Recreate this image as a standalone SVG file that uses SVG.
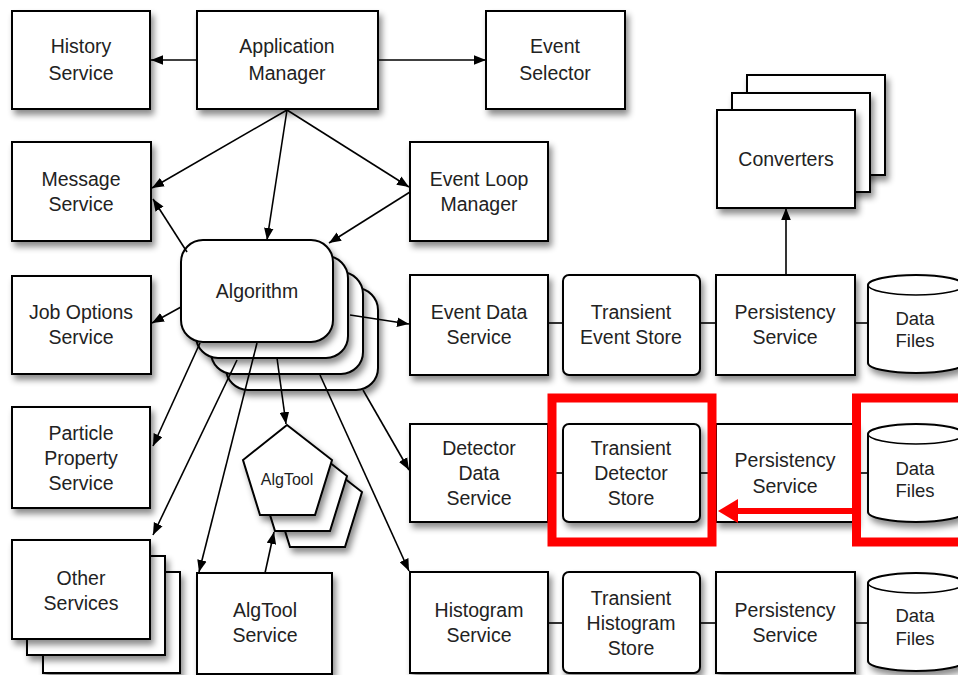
<svg xmlns="http://www.w3.org/2000/svg" width="958" height="675" viewBox="0 0 958 675">
<defs>
<filter id="sh" x="-20%" y="-20%" width="150%" height="150%">
<feDropShadow dx="3" dy="5" stdDeviation="3" flood-color="#000" flood-opacity="0.45"/>
</filter>
<marker id="ah" viewBox="0 0 10 8" refX="10" refY="4" markerWidth="12" markerHeight="10" markerUnits="userSpaceOnUse" orient="auto">
<path d="M0,0 L10,4 L0,8 Z" fill="#000"/>
</marker>
</defs>
<style>
.b{fill:#fff;stroke:#000;stroke-width:2;filter:url(#sh)}
.t{font-family:"Liberation Sans",Arial,sans-serif;font-size:19.5px;fill:#222;text-anchor:middle}
.s{font-family:"Liberation Sans",Arial,sans-serif;font-size:16px;fill:#222;text-anchor:middle}
.c{fill:none;stroke:#000;stroke-width:1.6}
.a{fill:none;stroke:#000;stroke-width:1.6;marker-end:url(#ah)}
.red{fill:none;stroke:#f00;stroke-width:9}
</style>
<rect width="958" height="675" fill="#fff"/>

<g id="history-service"><rect class="b" x="12" y="11" width="138" height="98"/><text class="t" x="81" y="53">History</text><text class="t" x="81" y="80">Service</text></g>
<g id="application-manager"><rect class="b" x="197" y="11" width="181" height="98"/><text class="t" x="287" y="53">Application</text><text class="t" x="287" y="80">Manager</text></g>
<g id="event-selector"><rect class="b" x="486" y="11" width="139" height="98"/><text class="t" x="555" y="53">Event</text><text class="t" x="555" y="80">Selector</text></g>
<g id="message-service"><rect class="b" x="12" y="142" width="139" height="99"/><text class="t" x="81" y="186">Message</text><text class="t" x="81" y="211">Service</text></g>
<g id="event-loop-manager"><rect class="b" x="410" y="142" width="138" height="99"/><text class="t" x="479" y="186">Event Loop</text><text class="t" x="479" y="211">Manager</text></g>
<g id="converters">
<rect class="b" x="747" y="75" width="138" height="100"/>
<rect class="b" x="732" y="93" width="138" height="99"/>
<rect class="b" x="717" y="110" width="138" height="98"/>
<text class="t" x="786" y="166">Converters</text></g>
<g id="job-options-service"><rect class="b" x="12" y="276" width="139" height="98"/><text class="t" x="81" y="319">Job Options</text><text class="t" x="81" y="344">Service</text></g>
<g id="algorithm">
<rect class="b" x="226" y="288" width="152" height="102" rx="22"/>
<rect class="b" x="211" y="272" width="152" height="102" rx="22"/>
<rect class="b" x="196" y="256" width="152" height="102" rx="22"/>
<rect class="b" x="181" y="240" width="152" height="102" rx="22"/>
<text class="t" x="257" y="298">Algorithm</text></g>
<g id="event-data-service"><rect class="b" x="410" y="275" width="138" height="100"/><text class="t" x="479" y="319">Event Data</text><text class="t" x="479" y="344">Service</text></g>
<g id="transient-event-store"><rect class="b" x="563" y="275" width="137" height="100" rx="6"/><text class="t" x="631" y="319">Transient</text><text class="t" x="631" y="344">Event Store</text></g>
<g id="persistency-service-1"><rect class="b" x="716" y="275" width="139" height="100"/><text class="t" x="785" y="319">Persistency</text><text class="t" x="785" y="344">Service</text></g>
<g id="data-files-1"><path class="b" d="M868,285 A48,10 0 0 1 964,285 L964,363 A48,10 0 0 1 868,363 Z"/><path class="c" d="M868,285 A48,10 0 0 0 964,285"/><text class="t" x="915" y="325" style="font-size:18.5px">Data</text><text class="t" x="915" y="347" style="font-size:18.5px">Files</text></g>

<g id="particle-property-service"><rect class="b" x="12" y="407" width="138" height="101"/><text class="t" x="81" y="440">Particle</text><text class="t" x="81" y="465">Property</text><text class="t" x="81" y="490">Service</text></g>
<g id="algtool">
<polygon class="b" points="317,457 362,492 345,547 290,547 273,492"/>
<polygon class="b" points="302,441 347,476 330,531 275,531 258,476"/>
<polygon class="b" points="287,425 332,460 315,515 260,515 243,460"/>
<text class="s" x="287" y="485">AlgTool</text></g>
<g id="detector-data-service"><rect class="b" x="410" y="424" width="138" height="98"/><text class="t" x="479" y="455">Detector</text><text class="t" x="479" y="480">Data</text><text class="t" x="479" y="505">Service</text></g>
<g id="transient-detector-store"><rect class="b" x="563" y="424" width="137" height="98" rx="6"/><text class="t" x="631" y="455">Transient</text><text class="t" x="631" y="480">Detector</text><text class="t" x="631" y="505">Store</text></g>
<g id="persistency-service-2"><rect class="b" x="716" y="424" width="139" height="98"/><text class="t" x="785" y="467">Persistency</text><text class="t" x="785" y="493">Service</text></g>
<g id="data-files-2"><path class="b" d="M868,434 A48,10 0 0 1 964,434 L964,512 A48,10 0 0 1 868,512 Z"/><path class="c" d="M868,434 A48,10 0 0 0 964,434"/><text class="t" x="915" y="475" style="font-size:18.5px">Data</text><text class="t" x="915" y="497" style="font-size:18.5px">Files</text></g>

<g id="other-services">
<rect class="b" x="43" y="572" width="137" height="101"/>
<rect class="b" x="27" y="556" width="138" height="99"/>
<rect class="b" x="12" y="540" width="138" height="99"/>
<text class="t" x="81" y="585">Other</text><text class="t" x="81" y="610">Services</text></g>
<g id="algtool-service"><rect class="b" x="197" y="573" width="135" height="101"/><text class="t" x="265" y="617">AlgTool</text><text class="t" x="265" y="642">Service</text></g>
<g id="histogram-service"><rect class="b" x="410" y="572" width="138" height="101"/><text class="t" x="479" y="617">Histogram</text><text class="t" x="479" y="642">Service</text></g>
<g id="transient-histogram-store"><rect class="b" x="563" y="572" width="137" height="101" rx="6"/><text class="t" x="631" y="605">Transient</text><text class="t" x="631" y="630">Histogram</text><text class="t" x="631" y="655">Store</text></g>
<g id="persistency-service-3"><rect class="b" x="716" y="572" width="139" height="101"/><text class="t" x="785" y="617">Persistency</text><text class="t" x="785" y="642">Service</text></g>
<g id="data-files-3"><path class="b" d="M868,583 A48,10 0 0 1 964,583 L964,661 A48,10 0 0 1 868,661 Z"/><path class="c" d="M868,583 A48,10 0 0 0 964,583"/><text class="t" x="915" y="622" style="font-size:18.5px">Data</text><text class="t" x="915" y="645" style="font-size:18.5px">Files</text></g>

<g id="connectors">
<line class="a" x1="197" y1="60" x2="151" y2="60"/>
<line class="a" x1="378" y1="60" x2="486" y2="60"/>
<line class="a" x1="287" y1="110" x2="152" y2="188"/>
<line class="a" x1="287" y1="110" x2="267" y2="240"/>
<line class="a" x1="287" y1="110" x2="409" y2="187"/>
<line class="a" x1="410" y1="192" x2="329" y2="243"/>
<line class="a" x1="187" y1="252" x2="153" y2="199"/>
<line class="a" x1="181" y1="307" x2="152" y2="323"/>
<line class="a" x1="350" y1="315" x2="409" y2="324"/>
<line class="a" x1="200" y1="343" x2="153" y2="446"/>
<line class="a" x1="237" y1="360" x2="153" y2="535"/>
<line class="a" x1="257" y1="343" x2="199" y2="572"/>
<line class="a" x1="277" y1="358" x2="286" y2="424"/>
<line class="a" x1="363" y1="390" x2="409" y2="470"/>
<line class="a" x1="320" y1="375" x2="409" y2="571"/>
<line class="a" x1="265" y1="573" x2="274" y2="532"/>
<line class="a" x1="786" y1="275" x2="786" y2="208"/>
<line class="c" x1="548" y1="323" x2="563" y2="323"/>
<line class="c" x1="700" y1="323" x2="716" y2="323"/>
<line class="c" x1="855" y1="323" x2="868" y2="323"/>
<line class="c" x1="548" y1="473" x2="563" y2="473"/>
<line class="c" x1="700" y1="473" x2="716" y2="473"/>
<line class="c" x1="855" y1="473" x2="868" y2="473"/>
<line class="c" x1="548" y1="623" x2="563" y2="623"/>
<line class="c" x1="700" y1="623" x2="716" y2="623"/>
<line class="c" x1="855" y1="623" x2="868" y2="623"/>
</g>

<g id="highlight">
<rect class="red" x="552" y="398" width="160" height="144"/>
<rect class="red" x="856.5" y="398" width="120" height="144"/>
<line x1="853" y1="511" x2="734" y2="511" stroke="#f00" stroke-width="6"/>
<polygon points="718,511 738,499 738,523" fill="#f00"/>
</g>
</svg>
